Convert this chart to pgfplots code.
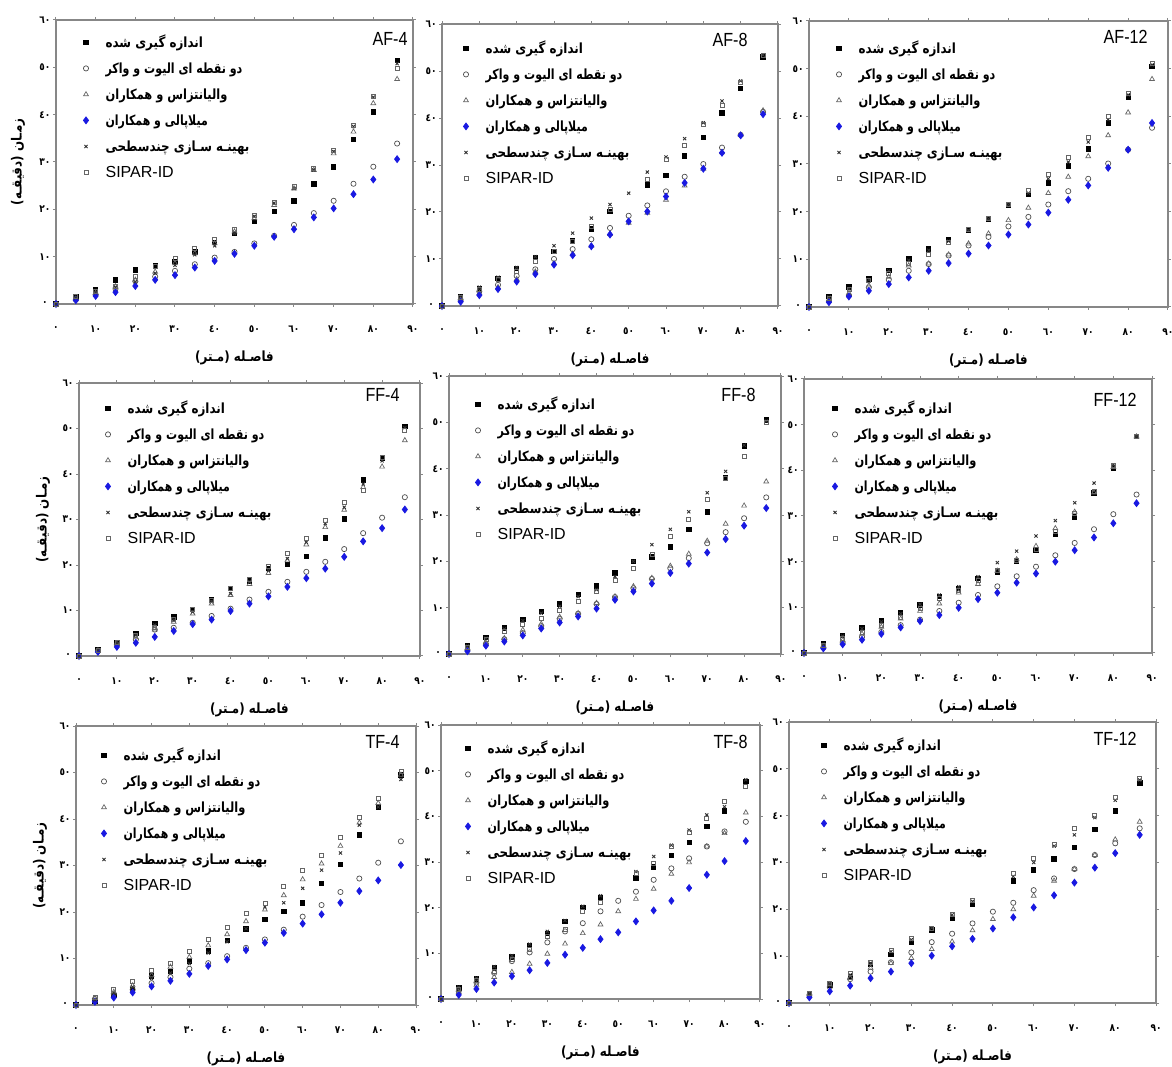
\documentclass[border=0pt]{standalone}
\usepackage{fontspec}
\usepackage{graphicx}
\usepackage{pgfplots}
\usepackage{pgfplotstable}
\pgfplotsset{compat=1.18}
\TeXXeTstate=1
\setmainfont{Liberation Sans}
\newfontfamily\arabicfont[Script=Arabic, FakeStretch=0.85]{DejaVu Sans}
\newcommand{\fa}[1]{{\arabicfont\bfseries\beginR #1\endR}}
\newcommand{\tickfont}{\arabicfont\bfseries\fontsize{5.3}{6}\selectfont}
\definecolor{miblue}{RGB}{25,25,225}
\definecolor{axgray}{RGB}{135,135,135}

\pgfplotstableread{
x m ew va mi ms sp
0 0 0 0 0 0 0
5 1.5 0.9 1.1 0.8 1.3 1.7
10 3.1 2.0 2.3 1.7 2.4 2.6
15 5.1 3.2 3.7 2.5 3.5 3.8
20 7.2 4.8 5.1 3.8 4.7 5.8
25 8.2 5.8 6.8 5.1 6.5 7.9
30 9.0 7.0 8.6 6.1 8.2 9.6
35 11.0 8.4 10.7 7.7 10.4 11.8
40 13.0 9.8 12.8 9.1 12.3 13.7
45 14.9 11.0 15.3 10.6 14.9 15.8
50 17.4 12.8 18.1 12.3 18.5 18.8
55 19.5 14.4 20.9 14.2 21.3 21.4
60 21.8 16.7 24.4 15.8 24.4 24.9
65 25.4 19.2 28.3 18.3 28.3 28.7
70 29.0 21.8 31.8 20.2 32.2 32.5
75 34.8 25.4 36.4 23.2 37.5 37.8
80 40.6 29.0 42.4 26.3 43.7 43.8
86 51.5 33.9 47.5 30.6 50.8 49.8
}\AFfour
\pgfplotstableread{
x m ew va mi ms sp
0 0 0 0 0 0 0
5 2.0 1.3 1.3 0.9 2.1 1.8
10 3.8 3.1 2.7 2.3 4.0 3.6
15 5.9 4.5 4.0 3.6 6.1 5.6
20 8.0 6.4 5.7 5.2 8.2 7.3
25 10.4 7.8 7.3 6.8 10.5 9.5
30 11.6 10.0 9.1 8.8 12.8 11.6
35 13.9 12.1 11.1 10.8 15.5 13.7
40 16.4 14.2 12.8 12.7 18.7 16.9
45 20.1 16.6 15.3 15.2 21.6 20.5
50 nan 19.2 17.7 18.0 24.0 nan
55 25.8 21.4 19.8 20.1 28.5 26.9
60 27.8 24.4 22.6 23.3 31.7 31.2
65 31.9 27.5 25.6 26.2 35.6 34.2
70 35.9 30.2 29.2 29.2 39.0 38.6
75 41.1 33.7 32.7 32.6 43.6 42.7
80 46.3 36.4 36.4 36.3 47.9 47.5
86 53.0 41.3 41.6 40.8 53.4 53.4
}\AFeight
\pgfplotstableread{
x m ew va mi ms sp
0 0 0 0 0 0 0
5 2.2 1.2 1.4 1.0 2.1 1.9
10 4.2 2.4 2.9 2.2 3.8 3.6
15 5.9 4.1 4.5 3.4 5.7 5.6
20 7.7 5.7 6.3 4.8 7.6 7.1
25 10.1 7.6 8.7 6.2 9.8 9.1
30 12.2 9.0 9.1 7.6 11.9 11.0
35 14.2 10.8 11.0 9.2 13.8 13.5
40 16.1 12.9 13.3 11.2 16.1 16.2
45 18.5 14.7 15.4 12.9 18.5 18.5
50 21.3 16.9 18.2 15.2 21.5 21.5
55 23.6 18.9 20.8 17.3 23.9 24.5
60 26.0 21.5 23.9 19.8 26.9 27.8
65 29.6 24.3 27.3 22.5 30.4 31.3
70 33.2 26.9 31.6 25.5 34.6 35.5
75 38.6 30.1 36.0 29.2 39.3 39.9
80 44.1 33.0 40.8 33.0 44.5 44.9
86 50.5 37.6 47.8 38.6 50.8 51.2
}\AFtwelve
\pgfplotstableread{
x m ew va mi ms sp
0 0 0 0 0 0 0
5 1.5 1.1 1.2 0.9 1.3 1.3
10 2.9 2.5 2.6 2.0 2.8 2.9
15 5.0 3.6 4.1 2.9 4.6 4.6
20 7.2 5.8 5.8 4.2 6.8 6.4
25 8.6 6.2 7.5 5.5 7.9 8.0
30 10.2 7.3 9.3 7.0 9.7 10.2
35 12.4 8.8 11.5 8.0 11.9 12.3
40 14.8 10.4 13.4 9.9 13.7 14.8
45 16.5 12.4 15.8 11.5 16.3 16.8
50 19.2 14.1 18.2 13.1 18.8 19.7
55 20.1 16.3 21.0 15.2 21.4 22.6
60 21.9 18.5 24.5 17.1 25.0 25.9
65 26.0 20.7 28.3 19.2 29.1 29.8
70 30.1 23.5 32.1 21.8 32.7 33.8
75 38.7 27.0 37.1 25.2 37.8 36.5
80 43.5 30.4 41.6 28.1 42.9 43.6
86 50.4 34.9 47.4 32.2 50.2 49.5
}\FFfour
\pgfplotstableread{
x m ew va mi ms sp
0 0 0 0 0 0 0
5 1.8 0.9 1.1 0.6 1.7 1.5
10 3.6 2.2 2.4 1.8 3.4 3.1
15 5.6 3.2 3.4 2.7 5.4 4.9
20 7.5 4.5 5.2 4.0 7.2 6.3
25 9.2 6.0 6.5 5.5 8.8 7.8
30 10.8 7.6 8.0 6.8 10.3 9.4
35 12.8 8.7 8.8 8.1 12.4 11.4
40 14.7 10.8 11.0 9.8 13.9 13.5
45 17.5 12.3 12.4 11.7 16.7 15.9
50 20.0 14.2 14.6 13.5 20.0 18.5
55 21.0 16.2 16.4 15.2 23.6 21.6
60 23.1 18.5 19.0 17.5 26.9 25.4
65 26.9 20.7 21.6 19.5 30.7 29.0
70 30.7 23.9 24.4 21.9 34.8 33.3
75 38.0 26.3 28.1 24.8 39.4 37.9
80 44.9 29.3 32.0 27.7 45.1 42.7
86 50.5 33.8 37.2 31.5 50.3 50.1
}\FFeight
\pgfplotstableread{
x m ew va mi ms sp
0 0 0 0 0 0 0
5 2.0 1.2 1.5 1.0 1.9 1.7
10 3.9 2.2 2.8 1.9 3.7 3.1
15 5.5 3.5 4.2 2.9 5.3 4.6
20 7.2 4.6 5.7 4.2 6.8 6.1
25 8.9 6.1 7.5 5.6 8.6 7.9
30 10.5 7.3 9.2 7.0 10.7 9.7
35 12.4 9.2 10.8 8.3 12.7 11.9
40 14.1 11.0 13.2 9.9 14.5 13.8
45 16.3 12.7 15.1 11.8 16.7 15.9
50 17.8 14.6 18.0 13.2 19.8 18.1
55 20.1 16.8 20.5 15.4 22.3 20.3
60 22.5 18.9 23.4 17.4 25.6 22.7
65 26.0 21.4 27.3 20.0 29.0 26.6
70 29.8 24.1 30.9 22.5 32.9 30.6
75 35.1 27.1 35.1 25.3 37.2 35.3
80 40.5 30.4 40.7 28.4 41.2 41.0
86 47.4 34.7 47.4 32.8 47.5 47.5
}\FFtwelve
\pgfplotstableread{
x m ew va mi ms sp
0 0 0 0 0 0 0
5 0.8 1.3 1.4 0.7 1.1 1.7
10 2.1 2.4 2.8 1.6 2.6 3.3
15 3.3 3.3 4.2 2.7 3.9 5.0
20 6.3 4.7 6.4 4.0 5.7 7.5
25 7.2 6.0 8.2 5.2 6.9 9.0
30 9.5 7.8 10.3 6.7 8.9 11.6
35 11.6 9.0 12.8 8.4 11.2 14.1
40 13.9 10.5 15.2 9.8 13.6 16.8
45 16.4 12.3 18.0 11.8 16.4 19.8
50 18.4 14.1 20.5 13.4 21.1 21.8
55 20.1 16.2 23.6 15.5 22.0 25.6
60 22.0 19.0 27.0 17.5 25.1 29.0
65 26.1 21.5 30.4 19.5 29.0 32.1
70 30.2 24.3 34.2 22.0 32.7 36.0
75 36.6 27.2 39.2 24.5 38.7 40.3
80 42.5 30.6 43.4 26.8 42.6 44.4
86 49.5 35.2 49.5 30.1 48.5 50.2
}\TFfour
\pgfplotstableread{
x m ew va mi ms sp
0 0 0 0 0 0 0
5 2.4 1.7 1.5 0.9 2.6 2.2
10 4.4 3.6 3.1 2.2 4.6 4.1
15 6.8 5.7 4.8 3.6 7.1 6.0
20 9.2 8.3 5.9 5.0 9.5 8.6
25 11.7 10.2 7.7 6.3 12.0 10.8
30 14.3 12.4 9.9 7.9 14.8 13.7
35 17.0 14.8 12.1 9.7 17.2 15.2
40 20.1 16.6 14.4 11.2 20.3 19.2
45 22.3 19.2 16.3 13.1 22.6 21.1
50 nan 21.5 19.2 14.6 nan nan
55 26.5 23.5 21.9 17.0 27.9 27.6
60 28.9 26.1 24.1 19.4 31.2 29.7
65 31.4 28.6 27.4 21.5 33.7 33.4
70 34.3 30.8 29.9 24.3 37.0 36.4
75 37.8 33.4 33.4 27.2 40.3 39.6
80 41.2 36.7 36.3 30.2 42.1 43.2
86 47.6 38.8 40.8 34.6 48.0 46.6
}\TFeight
\pgfplotstableread{
x m ew va mi ms sp
0 0 0 0 0 0 0
5 1.8 1.7 1.6 1.2 2.0 2.1
10 3.9 3.4 3.9 2.5 4.1 4.3
15 5.7 5.1 5.3 3.7 6.0 6.3
20 8.2 6.7 7.5 5.3 8.5 8.7
25 10.4 8.7 8.5 6.7 11.0 11.2
30 13.0 10.8 9.6 8.5 13.5 13.8
35 15.6 13.0 11.5 10.1 16.0 16.0
40 18.1 14.8 13.1 12.1 18.8 19.0
45 21.0 17.0 15.5 13.7 21.7 22.0
50 nan 19.5 17.9 15.9 nan nan
55 26.1 21.4 20.0 18.3 27.0 27.7
60 28.4 24.1 22.9 20.4 30.0 30.9
65 30.8 26.6 26.1 23.0 33.5 33.9
70 33.2 28.6 28.6 25.7 35.9 37.3
75 37.1 31.6 31.6 28.9 39.6 40.1
80 41.0 34.1 34.9 32.0 43.3 43.9
86 47.0 37.3 38.7 35.9 47.6 47.9
}\TFtwelve

\pgfplotsset{
  sMe/.style={only marks, mark=square*, mark size=1.1pt, black},
  sEW/.style={only marks, mark=o, mark size=1.3pt, black!70, line width=0.35pt},
  sVA/.style={only marks, mark=triangle, mark size=1.4pt, black!60, line width=0.35pt},
  sMi/.style={only marks, mark=diamond*, mark size=1.7pt, miblue},
  sMS/.style={only marks, mark=x, mark size=1.1pt, black!80, line width=0.45pt},
  sSP/.style={only marks, mark=square, mark size=1.0pt, black!60, line width=0.35pt},
  panel/.style={
    scale only axis, anchor=south west,
    xmin=0, xmax=90, ymin=0, ymax=60,
    xtick={0,10,...,90}, ytick={0,10,...,60},
    xticklabels={٠,١٠,٢٠,٣٠,٤٠,٥٠,٦٠,٧٠,٨٠,٩٠},
    yticklabels={٠,١٠,٢٠,٣٠,٤٠,٥٠,٦٠},
    tick align=outside, major tick length=1.5pt,
    tick style={axgray, line width=0.5pt},
    axis line style={axgray, line width=0.6pt},
    ticklabel style={font=\tickfont},
    xticklabel style={anchor=center, yshift=-11pt},
    yticklabel style={anchor=center, xshift=-4pt},
    clip=false,
    xlabel={\fa{فاصـله (مـتر)}},
    xlabel style={at={(axis description cs:0.5,0)}, anchor=center, yshift=-27pt, font=\fontsize{7}{9}\selectfont},
    ylabel style={at={(axis description cs:0,0.5)}, anchor=center, yshift=19pt, font=\fontsize{7}{9}\selectfont},
    legend cell align=left,
    legend style={at={(0,1)}, anchor=north west, draw=none, fill=none, inner sep=0pt,
      row sep=6pt, font=\fontsize{7}{9}\selectfont,
      nodes={inner sep=0pt, text height=6pt, text depth=1pt},
      /tikz/every odd column/.append style={column sep=8.5pt}},
  },
}
\newcommand{\ttl}[3]{\node[anchor=north east, inner sep=0pt, font=\fontsize{9.5}{10}\selectfont] at (rel axis cs:1,1) [xshift=#2, yshift=#3] {\scalebox{0.85}[1]{#1}};}
\newcommand{\sixplots}[1]{%
  \addplot[sMe] table[x=x,y=m]{#1};
  \addplot[sEW] table[x=x,y=ew]{#1};
  \addplot[sVA] table[x=x,y=va]{#1};
  \addplot[sMi] table[x=x,y=mi]{#1};
  \addplot[sMS] table[x=x,y=ms]{#1};
  \addplot[sSP] table[x=x,y=sp]{#1};
  \legend{\fa{اندازه گیری شده},\scalebox{0.93}[1]{\fa{دو نقطه ای الیوت و واکر}},\scalebox{0.96}[1]{\fa{والیانتزاس و همکاران}},\scalebox{0.92}[1]{\fa{میلاپالی و همکاران}},\fa{بهینـه سـازی چندسطحی},{\fontsize{8}{9}\selectfont SIPAR-ID}}
}

\begin{document}
\begin{tikzpicture}
\path[use as bounding box] (0,0) rectangle (586pt,533pt);
% Row 1
\begin{axis}[panel, at={(28pt,381pt)}, width=178.5pt, height=142pt,
  ylabel={\fa{زمـان (دقیقـه)}}, legend style={xshift=13.5pt, yshift=-7.5pt}]
\sixplots{\AFfour}
\ttl{AF-4}{-2.5pt}{-6pt}
\end{axis}
\begin{axis}[panel, at={(221pt,380pt)}, width=168pt, height=141pt,
  legend style={xshift=10.5pt, yshift=-8.5pt}]
\sixplots{\AFeight}
\ttl{AF-8}{-15pt}{-4.5pt}
\end{axis}
\begin{axis}[panel, at={(404.5pt,379.5pt)}, width=179.5pt, height=143pt,
  legend style={xshift=13.5pt, yshift=-10pt}]
\sixplots{\AFtwelve}
\ttl{AF-12}{-10pt}{-4.5pt}
\end{axis}
% Row 2
\begin{axis}[panel, at={(39.5pt,205pt)}, width=170.5pt, height=136.5pt,
  ylabel={\fa{زمـان (دقیقـه)}}, ylabel style={yshift=-1pt}, legend style={xshift=13pt, yshift=-9pt}]
\sixplots{\FFfour}
\ttl{FF-4}{-10pt}{-2.5pt}
\end{axis}
\begin{axis}[panel, at={(224.5pt,206pt)}, width=166pt, height=139pt,
  legend style={xshift=13pt, yshift=-10.5pt}]
\sixplots{\FFeight}
\ttl{FF-8}{-12.5pt}{-6pt}
\end{axis}
\begin{axis}[panel, at={(402pt,206.5pt)}, width=174pt, height=137pt,
  legend style={xshift=14pt, yshift=-11pt}]
\sixplots{\FFtwelve}
\ttl{FF-12}{-7.5pt}{-7pt}
\end{axis}
% Row 3
\begin{axis}[panel, at={(38pt,30.5pt)}, width=170pt, height=139.5pt,
  ylabel={\fa{زمـان (دقیقـه)}}, ylabel style={yshift=-1pt}, legend style={xshift=12.5pt, yshift=-11pt}]
\sixplots{\TFfour}
\ttl{TF-4}{-8pt}{-4.5pt}
\end{axis}
\begin{axis}[panel, at={(220.5pt,33.5pt)}, width=159.5pt, height=137pt,
  legend style={xshift=12pt, yshift=-8pt}]
\sixplots{\TFeight}
\ttl{TF-8}{-6pt}{-5pt}
\end{axis}
\begin{axis}[panel, at={(394.5pt,31.5pt)}, width=183.5pt, height=140.5pt,
  legend style={xshift=16pt, yshift=-8pt}]
\sixplots{\TFtwelve}
\ttl{TF-12}{-9.5pt}{-5pt}
\end{axis}
\end{tikzpicture}
\end{document}
